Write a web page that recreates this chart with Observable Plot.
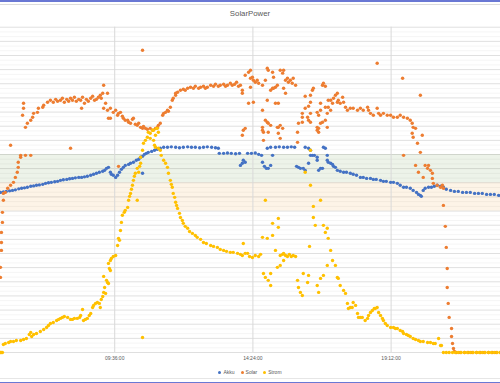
<!DOCTYPE html>
<html><head><meta charset="utf-8">
<script src="https://cdn.jsdelivr.net/npm/d3@7"></script>
<script src="https://cdn.jsdelivr.net/npm/@observablehq/plot@0.6"></script>
<style>
html,body{margin:0;padding:0;background:#fff;}
#chart{position:relative;width:500px;height:383px;overflow:hidden;background:#fff;font-family:"Liberation Sans",Arial,sans-serif;}
#plot{position:absolute;left:0;top:0;}
#title{position:absolute;top:9px;left:0;width:500px;text-align:center;font-size:7.8px;color:#595959;line-height:10px;}
#legend{position:absolute;top:369px;left:0;width:500px;display:flex;justify-content:center;gap:6px;font-size:5px;color:#595959;line-height:6px;}
.item{display:flex;align-items:center;gap:2px;}
.sw{width:3px;height:3px;border-radius:50%;display:inline-block;}
.line{position:absolute;left:0;width:500px;}
</style></head>
<body>
<div id="chart">
  <div id="plot"></div>
  <div id="title">SolarPower</div>
  <div id="legend"></div>
  <div class="line" style="top:0;height:1.5px;background:#6a78d4"></div>
  <div class="line" style="top:4px;height:1px;background:#dcdcdc"></div>
  <div class="line" style="top:378px;height:1px;background:#e6e6e6"></div>
  <div class="line" style="top:381.5px;height:1.5px;background:#6a78d4"></div>
</div>
<script>
// time in minutes of day, value in chart units
const seriesNames = ["Akku", "Solar", "Strom"];
const xTicks = [576, 864, 1152];
const xTickLabels = ["09:36:00", "14:24:00", "19:12:00"];
const xDomain = [338, 1380];
const yDomain = [0, 230];
const greenBand = [120, 140];
const orangeBand = [100, 120];

const akku = [[338,113.2],[344,113.6],[350,113.9],[357,114.3],[363,114.6],[369,115.0],[376,115.7],[382,116.1],[388,116.4],[394,116.8],[401,117.5],[407,117.8],[413,118.2],[419,118.5],[426,118.9],[432,119.6],[438,120.0],[444,120.3],[451,120.7],[457,121.0],[463,121.7],[469,122.1],[476,122.4],[482,122.8],[488,123.1],[494,123.5],[501,123.8],[507,123.8],[513,124.2],[519,124.6],[526,125.3],[532,126.0],[538,126.7],[544,127.4],[551,128.1],[555,128.8],[559,130.2],[563,130.9],[567,127.4],[569,126.0],[573,125.3],[578,123.8],[582,125.3],[586,127.4],[590,129.5],[594,130.9],[598,132.3],[605,133.0],[609,133.8],[615,134.5],[621,135.9],[626,136.6],[630,138.0],[634,126.7],[634,138.7],[638,140.1],[642,140.8],[646,141.5],[653,142.2],[659,143.0],[665,143.7],[671,144.4],[678,145.1],[686,145.1],[694,145.4],[703,145.1],[711,144.8],[719,145.1],[728,145.4],[736,145.1],[744,145.1],[753,144.8],[761,145.1],[769,145.4],[778,145.1],[786,144.8],[792,144.4],[794,140.8],[803,140.8],[811,141.1],[819,140.8],[828,140.5],[836,140.8],[838,132.3],[842,133.8],[844,135.9],[848,134.5],[853,140.8],[861,140.8],[869,141.1],[876,140.1],[882,139.4],[884,134.5],[888,131.6],[892,130.2],[896,130.2],[901,132.3],[905,139.4],[894,144.4],[901,145.1],[911,145.1],[919,145.4],[928,145.1],[936,145.1],[944,145.4],[951,145.1],[955,131.6],[959,130.9],[963,130.2],[969,130.2],[973,128.8],[973,145.1],[980,144.4],[980,133.8],[984,143.0],[984,139.4],[988,139.4],[992,139.4],[998,138.0],[998,135.9],[1001,128.8],[1005,130.2],[1009,130.2],[1011,145.1],[1015,144.4],[1019,139.4],[1019,135.9],[1021,134.5],[1026,133.8],[1030,133.0],[1032,131.6],[1036,130.9],[1040,128.8],[1046,128.1],[1053,127.4],[1059,127.4],[1067,126.7],[1073,126.0],[1080,125.3],[1088,123.8],[1094,123.8],[1101,123.1],[1109,123.1],[1115,122.4],[1121,122.4],[1130,121.7],[1136,121.0],[1142,121.0],[1151,120.3],[1157,120.3],[1165,119.6],[1171,118.2],[1178,116.8],[1184,116.8],[1192,116.1],[1198,114.6],[1205,113.2],[1209,111.8],[1213,111.1],[1215,110.4],[1219,114.6],[1223,116.1],[1230,116.8],[1236,116.8],[1242,117.5],[1248,118.2],[1255,117.5],[1261,116.8],[1267,115.4],[1276,114.6],[1284,113.9],[1292,113.9],[1301,113.2],[1309,113.2],[1317,113.2],[1326,112.5],[1334,112.5],[1342,112.5],[1351,111.8],[1359,111.8],[1367,111.8],[1376,111.1]];

const solar = [[338,53.1],[338,60.2],[340,72.2],[340,77.8],[340,84.9],[342,92.0],[342,99.1],[344,107.6],[344,112.5],[348,113.2],[353,116.1],[359,118.2],[359,146.5],[365,120.3],[369,123.8],[373,127.4],[375,130.9],[375,134.5],[380,138.0],[380,139.4],[390,139.4],[401,139.4],[484,144.4],[384,167.7],[386,172.7],[386,176.2],[390,159.2],[394,162.1],[401,164.2],[405,166.3],[407,169.1],[415,169.8],[417,172.7],[426,173.4],[428,174.8],[436,176.9],[442,178.3],[448,176.9],[453,179.0],[457,177.6],[463,178.3],[467,179.8],[471,176.9],[476,179.0],[480,177.6],[484,179.8],[488,178.3],[492,180.5],[496,177.6],[501,179.0],[505,178.3],[507,172.7],[509,180.5],[513,176.2],[517,179.0],[521,177.6],[526,179.8],[530,181.2],[534,178.3],[538,179.0],[542,180.5],[546,181.9],[548,179.8],[551,183.3],[553,189.0],[553,172.7],[557,176.2],[561,183.3],[561,171.3],[563,165.6],[567,172.7],[567,165.6],[573,169.8],[578,171.3],[582,167.7],[584,169.1],[584,131.6],[588,169.8],[592,167.0],[594,165.6],[598,164.2],[603,164.2],[605,162.8],[609,162.1],[613,164.9],[615,165.6],[619,161.4],[623,160.6],[626,162.1],[630,159.2],[634,158.5],[634,213.7],[636,159.9],[640,158.5],[644,157.8],[650,158.5],[655,157.1],[661,158.5],[665,159.2],[667,160.6],[671,162.1],[676,167.7],[678,169.1],[682,169.8],[686,171.3],[688,170.6],[692,173.4],[696,178.3],[698,179.8],[703,181.9],[703,183.3],[707,184.0],[713,185.4],[719,186.1],[723,185.4],[728,186.8],[734,187.5],[740,186.8],[744,188.2],[751,186.8],[755,187.5],[761,188.2],[765,186.8],[769,187.5],[776,189.0],[782,188.2],[786,189.7],[792,188.2],[796,189.0],[803,189.7],[807,188.2],[811,189.0],[817,190.4],[821,189.0],[826,189.7],[830,191.1],[834,188.2],[838,189.0],[842,185.4],[842,183.3],[844,157.1],[848,158.5],[842,153.6],[848,196.0],[855,198.2],[855,176.2],[859,199.6],[859,193.9],[859,187.5],[863,194.6],[865,192.5],[865,176.9],[869,191.1],[873,192.5],[876,190.4],[884,189.0],[884,171.3],[884,159.2],[886,155.7],[886,150.0],[884,157.1],[890,192.5],[890,164.2],[894,201.0],[894,178.3],[894,162.8],[896,199.6],[896,162.1],[896,155.7],[901,185.4],[901,160.6],[905,198.2],[905,186.8],[907,194.6],[907,186.8],[911,187.5],[911,176.2],[915,189.0],[915,159.2],[917,176.2],[917,159.2],[917,155.0],[921,199.6],[921,160.6],[921,151.4],[926,197.5],[926,158.5],[928,199.6],[928,186.8],[932,192.5],[932,183.3],[936,193.9],[938,191.1],[942,192.5],[946,190.4],[948,193.9],[953,189.0],[957,155.7],[957,148.6],[959,162.1],[967,169.1],[967,166.3],[967,162.8],[973,181.2],[973,172.7],[978,166.3],[980,174.1],[980,164.2],[984,181.9],[984,176.9],[984,169.1],[984,162.8],[988,185.4],[990,186.8],[998,169.8],[998,159.2],[998,157.1],[1001,167.7],[1001,158.5],[1001,155.7],[1005,176.2],[1005,171.3],[1005,162.1],[1009,189.0],[1009,162.8],[1011,190.4],[1015,188.2],[1015,173.4],[1015,164.2],[1019,169.1],[1019,159.2],[1021,178.3],[1021,173.4],[1026,178.3],[1026,171.3],[1030,176.2],[1032,179.8],[1036,181.9],[1040,183.3],[1040,176.9],[1042,178.3],[1046,176.2],[1051,180.5],[1053,176.9],[1057,173.4],[1061,171.3],[1067,172.7],[1073,172.7],[1082,171.3],[1088,172.7],[1094,171.3],[1103,173.4],[1105,171.3],[1109,169.1],[1115,167.7],[1123,172.7],[1123,204.5],[1126,169.1],[1130,167.7],[1136,169.1],[1144,167.7],[1151,167.7],[1157,166.3],[1165,166.3],[1171,167.7],[1176,193.9],[1178,166.3],[1178,139.4],[1186,165.6],[1192,164.2],[1196,162.1],[1196,155.0],[1198,159.2],[1198,152.2],[1203,158.5],[1203,132.3],[1207,147.9],[1209,127.4],[1213,181.9],[1213,141.5],[1217,153.6],[1219,123.8],[1223,132.3],[1228,130.2],[1230,132.3],[1234,128.8],[1238,126.7],[1238,123.1],[1240,119.6],[1248,118.2],[1255,116.8],[1259,118.2],[1261,116.1],[1261,104.0],[1265,89.2],[1267,74.3],[1269,59.4],[1269,46.0],[1271,34.7],[1273,24.8],[1278,17.0],[1278,11.3],[1280,6.4],[1282,2.8],[1284,0.7],[1288,0],[1296,0],[1305,0],[1313,0],[1321,0],[1330,0],[1338,0],[1346,0],[1355,0],[1363,0],[1371,0],[1380,0]];

const strom = [[338,0],[340,0],[342,0],[344,5.7],[348,6.4],[355,7.1],[359,7.8],[365,7.8],[371,8.5],[380,8.5],[386,9.2],[392,9.9],[398,12.7],[401,14.2],[403,11.3],[407,12.7],[413,13.4],[421,14.9],[428,16.3],[434,17.7],[438,19.1],[442,20.5],[448,21.2],[455,22.6],[459,23.4],[463,24.1],[467,24.8],[471,25.5],[478,24.8],[484,23.4],[488,23.4],[492,24.1],[498,24.1],[503,24.8],[505,26.2],[509,30.4],[511,22.6],[515,23.4],[519,24.1],[523,26.2],[526,27.6],[530,31.8],[532,33.3],[536,34.7],[540,35.4],[544,34.7],[546,31.8],[548,37.5],[551,39.6],[553,42.5],[555,46.0],[557,41.8],[553,53.8],[559,51.0],[561,49.5],[563,48.8],[563,63.0],[565,59.4],[567,58.0],[567,65.1],[569,66.5],[573,67.9],[578,68.6],[582,75.7],[584,80.7],[586,79.3],[588,86.3],[590,92.0],[592,97.0],[596,99.1],[598,100.5],[603,102.6],[605,107.6],[607,110.4],[609,112.5],[611,115.4],[613,118.2],[615,121.7],[617,124.6],[619,126.7],[623,107.6],[623,130.2],[626,127.4],[628,131.6],[630,133.8],[630,138.0],[634,143.0],[634,10.6],[636,147.9],[640,150.0],[644,152.2],[646,155.7],[650,151.4],[650,155.0],[655,157.1],[657,157.1],[659,146.5],[661,153.6],[663,158.5],[665,158.5],[667,155.7],[657,150.0],[661,145.1],[667,144.4],[671,143.0],[673,139.4],[678,135.9],[682,133.8],[686,130.9],[688,126.7],[692,121.7],[694,118.9],[696,116.8],[698,112.5],[701,109.7],[703,106.2],[705,104.0],[707,101.9],[711,98.4],[713,95.5],[717,93.4],[719,91.3],[723,89.2],[728,87.8],[732,85.6],[738,84.2],[744,82.8],[748,81.4],[755,80.0],[761,77.8],[767,77.1],[776,75.7],[782,75.0],[790,74.3],[796,72.9],[803,72.2],[809,71.5],[817,70.8],[823,70.8],[832,70.1],[838,69.4],[842,68.6],[844,77.1],[848,70.1],[853,70.1],[857,67.9],[863,67.2],[869,68.6],[876,67.9],[880,69.4],[884,81.4],[886,55.9],[890,53.1],[890,107.6],[894,80.7],[896,51.0],[901,47.4],[901,55.9],[905,82.8],[905,91.3],[911,72.2],[915,60.2],[917,94.8],[917,88.5],[921,68.6],[921,61.6],[926,69.4],[928,70.1],[928,65.1],[932,68.6],[936,67.9],[940,69.4],[944,67.9],[948,68.6],[953,67.9],[957,51.0],[959,46.0],[963,42.5],[967,40.3],[969,55.9],[973,127.4],[978,49.5],[980,54.5],[982,75.0],[984,143.0],[984,118.2],[990,103.3],[990,95.5],[994,89.9],[998,47.4],[1001,42.5],[1005,107.6],[1005,52.4],[1011,89.9],[1011,54.5],[1015,84.9],[1019,87.8],[1019,61.6],[1021,80.7],[1026,72.2],[1030,65.1],[1036,61.6],[1040,53.1],[1042,52.4],[1046,47.4],[1053,43.9],[1057,41.8],[1061,34.7],[1063,31.1],[1067,31.8],[1071,31.8],[1073,35.4],[1078,33.3],[1082,27.6],[1084,24.8],[1088,24.8],[1092,24.8],[1098,22.6],[1103,24.1],[1105,26.2],[1109,28.3],[1113,29.7],[1117,31.1],[1119,31.1],[1123,31.8],[1126,28.3],[1130,26.2],[1134,24.1],[1136,22.6],[1140,20.5],[1144,19.1],[1151,17.7],[1157,17.7],[1161,17.0],[1165,17.0],[1171,15.6],[1176,14.9],[1178,13.4],[1184,12.7],[1188,12.0],[1192,11.3],[1198,9.9],[1203,9.2],[1209,8.5],[1213,7.8],[1219,7.8],[1228,7.1],[1234,7.1],[1240,6.4],[1244,6.4],[1251,9.9],[1255,5.0],[1257,5.0],[1261,0],[1267,0],[1273,0],[1280,0],[1286,0],[1292,0],[1298,0],[1305,0],[1311,0],[1317,0],[1323,0],[1330,0],[1336,0],[1342,0],[1348,0],[1355,0],[1361,0],[1367,0],[1373,0],[1380,0]];

const majorGrid = d3.range(0, 231, 10);
const minorGrid = d3.range(0, 230.01, 10 / 3);
const colors = {Akku: "#4472C4", Solar: "#ED7D31", Strom: "#FFC000"};

const chart = Plot.plot({
  width: 500, height: 365,
  marginLeft: 0, marginRight: 0, marginTop: 26.7, marginBottom: 13,
  style: {background: "transparent", overflow: "visible"},
  x: {domain: xDomain, axis: null},
  y: {domain: yDomain, axis: null},
  marks: [
    Plot.rect([greenBand], {x1: () => xDomain[0], x2: () => xDomain[1], y1: d => d[0], y2: d => d[1], fill: "#edf3e9"}),
    Plot.rect([orangeBand], {x1: () => xDomain[0], x2: () => xDomain[1], y1: d => d[0], y2: d => d[1], fill: "#fdf4e7"}),
    Plot.ruleY(minorGrid, {stroke: "#000", strokeOpacity: 0.055, strokeWidth: 0.8}),
    Plot.ruleY(majorGrid, {stroke: "#000", strokeOpacity: 0.11, strokeWidth: 0.8}),
    Plot.ruleX(xTicks, {stroke: "#d9d9d9", strokeWidth: 1}),
    Plot.dot(akku, {x: d => d[0], y: d => d[1], r: 1.7, fill: colors.Akku}),
    Plot.dot(solar, {x: d => d[0], y: d => d[1], r: 1.7, fill: colors.Solar}),
    Plot.dot(strom, {x: d => d[0], y: d => d[1], r: 1.7, fill: colors.Strom}),
    Plot.text(xTicks, {x: d => d, text: (d, i) => xTickLabels[i], frameAnchor: "bottom", dy: 7, fontSize: 5, fill: "#595959", fontFamily: "Liberation Sans, Arial, sans-serif"})
  ]
});
document.getElementById("plot").appendChild(chart);

const legend = document.getElementById("legend");
for (const name of seriesNames) {
  const item = document.createElement("span");
  item.className = "item";
  const sw = document.createElement("span");
  sw.className = "sw";
  sw.style.background = colors[name];
  const label = document.createElement("span");
  label.textContent = name;
  item.appendChild(sw);
  item.appendChild(label);
  legend.appendChild(item);
}
</script>
</body></html>
